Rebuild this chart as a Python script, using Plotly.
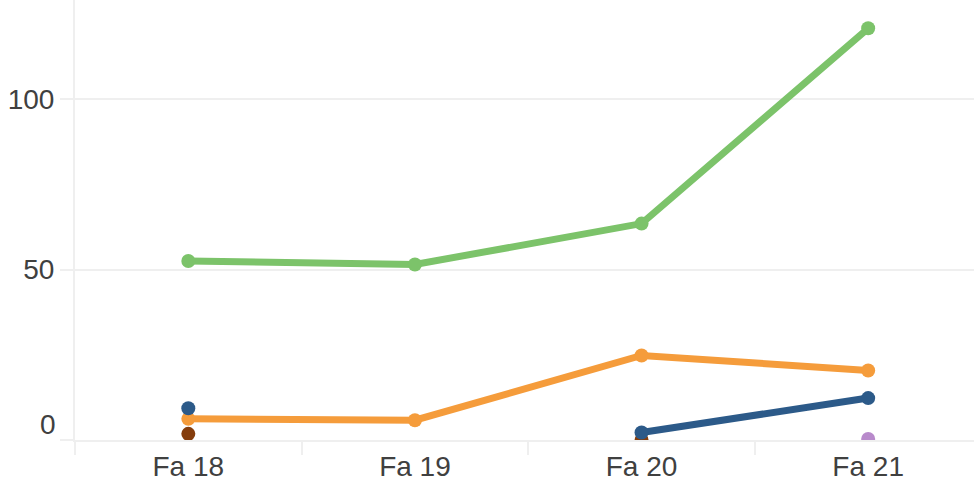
import plotly.graph_objects as go

categories = ["Fa 18", "Fa 19", "Fa 20", "Fa 21"]
green_vals = [52.5, 51.5, 63.5, 120.8]
orange_vals = [6.2, 5.8, 24.8, 20.4]
blue_vals = [9.3, None, 2.2, 12.3]
brown_vals = [1.8, None, 0.0, None]
purple_vals = [None, None, None, 0.3]

series = [
    ("Green", green_vals, "#7CC36A"),
    ("Orange", orange_vals, "#F59C3B"),
    ("Brown", brown_vals, "#853D0C"),
    ("Purple", purple_vals, "#B88ACB"),
    ("Blue", blue_vals, "#2C5A89"),
]

fig = go.Figure()
for name, vals, color in series:
    fig.add_trace(go.Scatter(
        x=categories, y=vals, name=name, mode="lines+markers",
        line=dict(color=color, width=7),
        marker=dict(color=color, size=14),
        connectgaps=False,
    ))

grid = "#EFEFEF"
font = dict(family="Liberation Sans, Arial, sans-serif", size=28, color="#404040")

fig.update_layout(
    width=974, height=483,
    margin=dict(l=75, r=0, t=0, b=43),
    plot_bgcolor="white", paper_bgcolor="white",
    showlegend=False,
    font=font,
    xaxis=dict(
        type="category", range=[-0.5, 3.467],
        tickson="boundaries", ticks="outside", ticklen=13, tickwidth=1.5,
        tickcolor=grid, showgrid=False, zeroline=False,
        showline=True, linecolor=grid, linewidth=2,
        tickfont=font,
    ),
    yaxis=dict(
        range=[0, 129.1],
        tickvals=[0, 50, 100], ticktext=["", "50", "100"],
        ticks="outside", ticklen=13, tickwidth=2, tickcolor=grid,
        showgrid=True, gridcolor=grid, gridwidth=2, zeroline=False,
        showline=True, linecolor=grid, linewidth=2,
        tickfont=font,
    ),
)

fig.add_annotation(
    text="0", xref="paper", yref="y", x=0, y=0,
    xanchor="right", yanchor="middle", xshift=-17, yshift=16,
    showarrow=False, font=font,
)

fig.write_html(
    "out.html",
    config={"displayModeBar": False},
    post_script="document.body.style.margin='0';document.body.style.padding='0';",
)
